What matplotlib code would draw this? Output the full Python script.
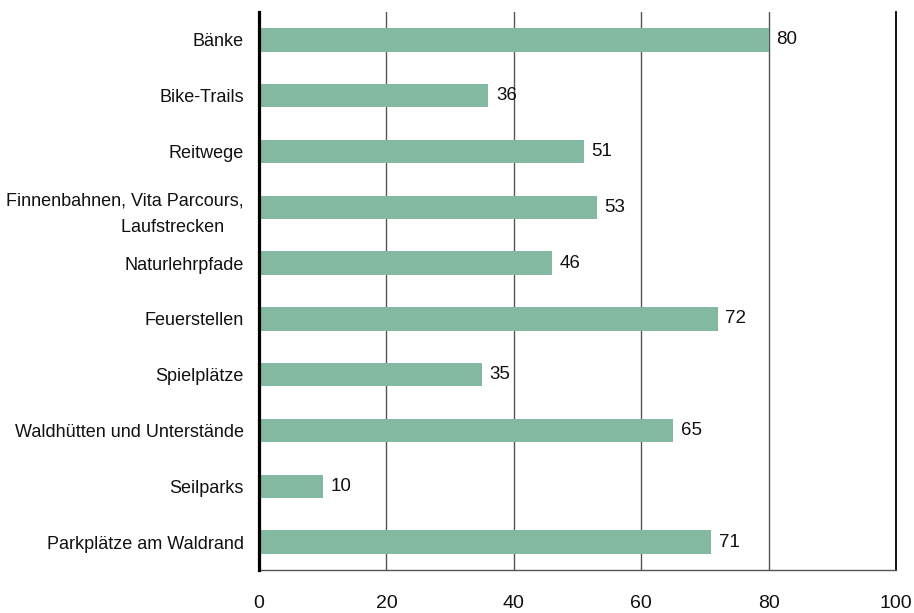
import matplotlib
matplotlib.use("Agg")
import matplotlib.pyplot as plt

categories = [
    "Bänke",
    "Bike-Trails",
    "Reitwege",
    "Finnenbahnen, Vita Parcours,\nLaufstrecken    ",
    "Naturlehrpfade",
    "Feuerstellen",
    "Spielplätze",
    "Waldhütten und Unterstände",
    "Seilparks",
    "Parkplätze am Waldrand",
]
values = [80, 36, 51, 53, 46, 72, 35, 65, 10, 71]
x_ticks = [0, 20, 40, 60, 80, 100]

plt.rcParams["font.family"] = ["Liberation Sans", "DejaVu Sans"]

fig = plt.figure(figsize=(9.14, 6.13), dpi=100)
ax = fig.add_axes([0.2834, 0.0701, 0.9803 - 0.2834, 0.9804 - 0.0701])

y = list(range(len(categories)))
ax.barh(y, values, height=0.42, color="#82b9a0", zorder=3)
for yi, v in zip(y, values):
    ax.text(v + 1.2, yi, str(v), va="center", ha="left", fontsize=13.5, color="#111111")

ax.set_xlim(0, 100)
ax.set_ylim(len(categories) - 0.5, -0.5)
ax.set_yticks(y)
labels = ax.set_yticklabels(categories, fontsize=13, color="#111111", ha="right")
for lab in labels:
    lab.set_linespacing(1.75)
    lab.set_multialignment("right")
ax.set_xticks(x_ticks)
ax.set_xticklabels([str(t) for t in x_ticks], fontsize=14, color="#111111")
ax.tick_params(axis="both", length=0)
ax.tick_params(axis="y", pad=11)
ax.tick_params(axis="x", pad=18)

# inner gridlines in dark grey, right border line in black
for t in x_ticks[1:-1]:
    ax.axvline(t, color="#555555", linewidth=1.0, zorder=1)
ax.axvline(x_ticks[-1], color="black", linewidth=1.3, zorder=1, clip_on=False)

for side in ["top", "right"]:
    ax.spines[side].set_visible(False)
ax.spines["left"].set_linewidth(2.3)
ax.spines["left"].set_color("black")
ax.spines["left"].set_zorder(4)
ax.spines["bottom"].set_linewidth(1.0)
ax.spines["bottom"].set_color("#555555")

fig.savefig("out.png", dpi=100)
